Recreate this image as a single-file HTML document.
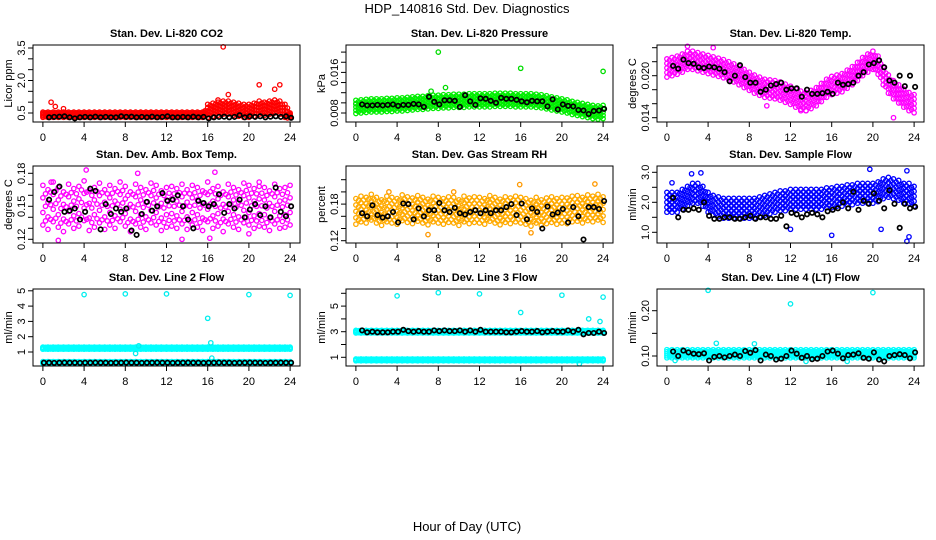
<!DOCTYPE html>
<html><head><meta charset="utf-8"><style>
html,body{margin:0;padding:0;background:#fff;}
svg{display:block;font-family:"Liberation Sans",Arial,sans-serif;}
</style></head><body>
<svg id="chart" width="936" height="540" viewBox="0 0 936 540" xmlns="http://www.w3.org/2000/svg">
<text x="467" y="13" font-size="13" text-anchor="middle">HDP_140816  Std. Dev. Diagnostics</text>
<text x="467" y="531" font-size="13" text-anchor="middle">Hour of Day (UTC)</text>
</svg>
<script>
// hour categories (0..24 every half hour)
const hours = Array.from({length:49},(_, i)=>i*0.5);
const xTicks = [0,4,8,12,16,20,24];

// CO2
const co2Mid = [0.42,0.42,0.42,0.42,0.42,0.42,0.42,0.42,0.42,0.42,0.42,0.42,0.42,0.42,0.42,0.42,0.42,0.42,0.42,0.42,0.42,0.42,0.42,0.42,0.42,0.42,0.42,0.42,0.42,0.42,0.42,0.42,0.6,0.65,0.7,0.75,0.75,0.7,0.65,0.6,0.6,0.65,0.75,0.7,0.75,0.8,0.75,0.6,0.4];
const co2Spread = [0.12,0.12,0.12,0.12,0.12,0.12,0.12,0.12,0.12,0.12,0.12,0.12,0.12,0.12,0.12,0.12,0.12,0.12,0.12,0.12,0.12,0.12,0.12,0.12,0.12,0.12,0.12,0.12,0.12,0.12,0.12,0.12,0.3,0.3,0.3,0.3,0.3,0.3,0.3,0.3,0.3,0.3,0.3,0.3,0.3,0.3,0.3,0.3,0.1];
const co2Black = [null,0.3,0.32,0.33,0.35,0.3,0.25,0.3,0.32,0.3,0.33,0.3,0.32,0.3,0.3,0.35,0.32,0.33,0.3,0.32,0.3,0.33,0.3,0.32,0.35,0.3,0.3,0.32,0.3,0.33,0.3,0.32,0.25,0.3,0.32,0.33,0.3,0.32,0.4,0.3,0.35,0.32,0.35,0.3,0.33,0.35,0.32,0.35,0.28];
const co2OutX = [17.5,0.8,1.2,2,21,23,22.5,18,17];
const co2OutY = [3.55,1.0,0.8,0.7,1.8,1.8,1.6,1.35,1.1];

// Pressure
const presMid = [.0092,.0093,.0094,.0095,.0095,.0095,.0096,.0096,.0097,.0097,.0098,.0099,.0100,.0100,.0101,.0102,.0102,.0103,.0103,.0104,.0104,.0104,.0105,.0105,.0105,.0105,.0105,.0106,.0106,.0106,.0106,.0105,.0105,.0105,.0105,.0104,.0103,.0101,.0099,.0097,.0095,.0093,.0090,.0088,.0086,.0084,.0082,.0081,.0082];
const presSpread = Array(49).fill(.0013);
const presBlack = [null,.0097,.0095,.0095,.0096,.0095,.0096,.0097,.0094,.0096,.0096,.0098,.0097,.0092,.0112,.0102,.0097,.0105,.0105,.0104,.0092,.0115,.0103,.0096,.0109,.0108,.0104,.0100,.0110,.0108,.0108,.0106,.0103,.0101,.0104,.0103,.0103,.0093,.0107,.0087,.0097,.0094,.0093,.0086,.0085,.0078,.0084,.0085,.0088];
const presOutX = [8,16,24,8.7,7.3,0];
const presOutY = [.0200,.0168,.0162,.0130,.0123,.0098];

// Li-820 Temp
const ltMid = [.0211,.0213,.0215,.0218,.0222,.0222,.0220,.0218,.0216,.0214,.0212,.0210,.0207,.0204,.0200,.0196,.0192,.0188,.0185,.0182,.0181,.0180,.0178,.0175,.0172,.0168,.0165,.0163,.0166,.0170,.0176,.0182,.0186,.0188,.0190,.0195,.0200,.0206,.0213,.0218,.0222,.0215,.0200,.0188,.0180,.0174,.0168,.0163,.0160];
const ltSpread = Array(49).fill(.0013);
const ltBlack = [null,.0214,.0210,.0223,.0218,.0217,.0212,.0211,.0213,.0212,.0210,.0205,.0192,.0200,.0215,.0198,.0190,.0190,.0177,.0180,.0186,.0188,.0190,.0180,.0182,.0182,.0170,.0180,.0174,.0174,.0175,.0177,.0174,.0190,.0187,.0188,.0190,.0200,.0205,.0216,.0218,.0222,.0212,.0193,.0190,.0200,.0185,.0200,.0184];
const ltOutX = [13,22,9.7,2,4.5,13.5];
const ltOutY = [.0150,.0140,.0157,.0242,.0240,.0150];

// Amb box temp
const abMid = [.152,.148,.155,.150,.146,.153,.149,.151,.156,.147,.150,.154,.148,.152,.149,.155,.151,.146,.153,.150,.148,.154,.152,.147,.150,.151,.149,.153,.148,.152,.150,.147,.155,.149,.151,.146,.153,.150,.148,.154,.152,.149,.151,.150,.147,.153,.149,.150,.152];
const abSpread = Array(49).fill(.019);
const abBlack = [null,.156,.163,.168,.145,.146,.148,.138,.145,.166,.164,.129,.152,.143,.148,.145,.148,.128,.124,.143,.154,.146,.150,.162,.155,.156,.160,.150,.138,.130,.155,.153,.150,.152,.161,.144,.152,.148,.156,.140,.147,.152,.142,.150,.140,.167,.145,.141,.150];
const abOutX = [4.2,9.2,16.7,1.5,13.5,16.2,20,0.8,21];
const abOutY = [.183,.180,.181,.119,.120,.121,.125,.172,.172];

// Gas stream RH
const rhMid = [.168,.172,.170,.175,.170,.166,.172,.170,.168,.174,.171,.169,.173,.170,.167,.172,.170,.168,.171,.170,.166,.172,.169,.171,.170,.168,.173,.170,.167,.171,.169,.172,.170,.168,.165,.170,.166,.169,.171,.168,.170,.169,.172,.173,.170,.174,.172,.175,.171];
const rhSpread = Array(49).fill(.021);
const rhBlack = [null,.165,.160,.178,.162,.158,.160,.167,.150,.181,.180,.155,.173,.160,.170,.170,.182,.170,.167,.174,.165,.163,.167,.170,.165,.170,.165,.170,.170,.175,.180,.162,.181,.155,.173,.167,.140,.176,.163,.166,.172,.150,.175,.160,.122,.175,.175,.172,.185];
const rhOutX = [15.9,23.2,3.2,9.5,7,17];
const rhOutY = [.212,.213,.200,.200,.130,.133];

// Sample flow
const sfMid = [2.0,2.0,2.0,2.1,2.2,2.3,2.3,2.2,2.0,1.9,1.85,1.8,1.8,1.8,1.8,1.8,1.8,1.8,1.85,1.9,1.95,2.0,2.05,2.05,2.1,2.1,2.1,2.1,2.1,2.1,2.1,2.15,2.15,2.2,2.2,2.25,2.25,2.3,2.3,2.3,2.3,2.35,2.45,2.5,2.45,2.4,2.3,2.3,2.2];
const sfSpread = Array(49).fill(.33);
const sfBlack = [null,2.15,1.5,1.75,1.75,1.8,1.75,2.0,1.55,1.45,1.45,1.5,1.5,1.45,1.45,1.5,1.55,1.45,1.5,1.5,1.45,1.45,1.55,1.2,1.65,1.6,1.5,1.6,1.65,1.6,1.5,1.7,1.75,1.8,2.0,1.8,2.35,1.75,2.05,1.95,2.3,2.05,1.8,2.4,1.95,1.15,1.95,1.8,1.85];
const sfOutX = [0.5,2.4,3.3,19.7,23.3,16,23.3,23.5,20.8,12];
const sfOutY = [2.65,2.95,2.98,3.1,3.05,0.9,0.7,0.85,1.1,1.1];

// Line 2 flow
const l2Mid = Array(49).fill(1.25);
const l2Spread = Array(49).fill(0.07);
const l2LowMid = Array(49).fill(0.32);
const l2LowSpread = Array(49).fill(0.05);
const l2Black = [0.3,0.3,0.29,0.3,0.31,0.3,0.3,0.29,0.3,0.3,0.31,0.3,0.3,0.29,0.3,0.3,0.31,0.3,0.3,0.29,0.3,0.3,0.31,0.3,0.3,0.29,0.3,0.3,0.31,0.3,0.3,0.29,0.3,0.3,0.31,0.3,0.3,0.29,0.3,0.3,0.31,0.3,0.3,0.29,0.3,0.3,0.31,0.3,0.3];
const l2OutX = [4,8,12,16,16.3,16.4,20,24,9,9.3];
const l2OutY = [4.75,4.8,4.8,3.2,1.6,0.6,4.75,4.7,0.9,1.4];

// Line 3 flow
const l3Mid = Array(49).fill(3.0);
const l3Spread = Array(49).fill(0.1);
const l3LowMid = Array(49).fill(0.8);
const l3LowSpread = Array(49).fill(0.07);
const l3Black = [null,3.1,2.95,3.0,2.95,2.95,2.95,3.0,3.0,3.15,3.05,3.0,3.05,3.0,3.0,3.1,3.05,3.1,3.05,3.05,3.1,3.0,3.1,3.0,3.15,3.0,3.0,3.0,3.0,2.95,2.95,3.0,3.05,3.0,3.0,3.05,2.95,3.0,3.05,3.0,3.0,3.1,3.0,3.15,2.8,2.9,2.9,3.0,2.9];
const l3OutX = [4,8,12,16,20,24,22.6,23.7,21.7];
const l3OutY = [5.8,6.05,5.95,4.5,5.85,5.7,4.0,3.8,0.5];

// Line 4 flow
const l4Mid = Array(49).fill(0.105);
const l4Spread = Array(49).fill(0.009);
const l4Black = [null,0.11,0.1,0.112,0.108,0.105,0.104,0.106,0.09,0.098,0.1,0.097,0.1,0.103,0.1,0.111,0.107,0.113,0.09,0.103,0.1,0.092,0.094,0.1,0.112,0.105,0.096,0.1,0.093,0.094,0.1,0.11,0.112,0.105,0.095,0.102,0.103,0.106,0.096,0.094,0.108,0.092,0.088,0.1,0.102,0.104,0.102,0.095,0.108];
const l4OutX = [4,12,20,0.8,4.8,8.5,13.5,17.5];
const l4OutY = [0.245,0.215,0.24,0.09,0.128,0.127,0.088,0.088];

const panels = [
 {name:'co2',title:'Stan. Dev. Li-820 CO2',ylab:'Licor ppm',x:33,y:45,v0:0.5,y0:113,k:21.67,ticks:[0.5,1,1.5,2,2.5,3,3.5],labs:['0.5','','','2.0','','','3.5'],col:'#ff0000',bands:[[co2Mid,co2Spread]],black:co2Black,ox:co2OutX,oy:co2OutY,oc:'#ff0000'},
 {name:'pressure',title:'Stan. Dev. Li-820 Pressure',ylab:'kPa',x:346,y:45,v0:0.008,y0:113,k:5075,ticks:[.008,.010,.012,.014,.016,.018,.020],labs:['0.008','','','','0.016','',''],col:'#00ee00',bands:[[presMid,presSpread]],black:presBlack,ox:presOutX,oy:presOutY,oc:'#00dd00'},
 {name:'li-temp',title:'Stan. Dev. Li-820 Temp.',ylab:'degrees C',x:657,y:45,v0:0.014,y0:117.7,k:7000,ticks:[.014,.016,.018,.020,.022,.024],labs:['0.014','','','0.020','',''],col:'#ff00ff',bands:[[ltMid,ltSpread]],black:ltBlack,ox:ltOutX,oy:ltOutY,oc:'#ff00ff'},
 {name:'amb-box-temp',title:'Stan. Dev. Amb. Box Temp.',ylab:'degrees C',x:33,y:166,v0:0.12,y0:239.3,k:1100,ticks:[.12,.13,.14,.15,.16,.17,.18],labs:['0.12','','','0.15','','','0.18'],col:'#ff00ff',bands:[[abMid,abSpread]],black:abBlack,ox:abOutX,oy:abOutY,oc:'#ff00ff',sparse:true},
 {name:'gas-rh',title:'Stan. Dev. Gas Stream RH',ylab:'percent',x:346,y:166,v0:0.12,y0:240.7,k:610,ticks:[.12,.14,.16,.18,.20,.22],labs:['0.12','','','0.18','',''],col:'#ffaa00',bands:[[rhMid,rhSpread]],black:rhBlack,ox:rhOutX,oy:rhOutY,oc:'#ff9900'},
 {name:'sample-flow',title:'Stan. Dev. Sample Flow',ylab:'ml/min',x:657,y:166,v0:1.0,y0:232.3,k:30,ticks:[1,1.5,2,2.5,3],labs:['1.0','','2.0','','3.0'],col:'#0000ff',bands:[[sfMid,sfSpread]],black:sfBlack,ox:sfOutX,oy:sfOutY,oc:'#0000ff'},
 {name:'line2-flow',title:'Stan. Dev. Line 2 Flow',ylab:'ml/min',x:33,y:289,v0:1,y0:352,k:15.3,ticks:[1,2,3,4,5],labs:['1','2','3','4','5'],col:'#00ffff',bands:[[l2Mid,l2Spread],[l2LowMid,l2LowSpread]],black:l2Black,ox:l2OutX,oy:l2OutY,oc:'#00eeee'},
 {name:'line3-flow',title:'Stan. Dev. Line 3 Flow',ylab:'ml/min',x:346,y:289,v0:1,y0:357.3,k:12.8,ticks:[1,2,3,4,5,6],labs:['1','','3','','5',''],col:'#00ffff',bands:[[l3Mid,l3Spread],[l3LowMid,l3LowSpread]],black:l3Black,ox:l3OutX,oy:l3OutY,oc:'#00eeee'},
 {name:'line4-flow',title:'Stan. Dev. Line 4 (LT) Flow',ylab:'ml/min',x:657,y:289,v0:0.10,y0:356,k:453,ticks:[0.10,0.15,0.20],labs:['0.10','','0.20'],col:'#00ffff',bands:[[l4Mid,l4Spread]],black:l4Black,ox:l4OutX,oy:l4OutY,oc:'#00eeee'}
];
const W=267,H=77,NS='http://www.w3.org/2000/svg';
const svg=document.getElementById('chart');
function mk(tag,attrs,parent){const e=document.createElementNS(NS,tag);for(const k in attrs)e.setAttribute(k,attrs[k]);(parent||svg).appendChild(e);return e;}
panels.forEach(p=>{
 const g=mk('g',{});
 
 
 const xs=h=>p.x+W*(h+0.96)/25.92;
 const ys=v=>p.y0-(v-p.v0)*p.k;
 const clip='c-'+p.name;
 const cp=mk('clipPath',{id:clip},g);mk('rect',{x:p.x-3,y:p.y-3,width:W+6,height:H+6},cp);
 const marks=mk('g',{'clip-path':'url(#'+clip+')'},g);
 
 
 const circ=(h,v,c,sw)=>{const e=mk('circle',{cx:xs(h).toFixed(1),cy:ys(v).toFixed(1),r:2.2,fill:'none',stroke:c,'stroke-width':sw},marks);return e;};
 const fr=p.sparse?[-1,-0.4,0.3,0.9]:[-1,-0.5,0,0.5,1];
 const fr2=p.sparse?[-0.7,0,0.6]:[-0.75,-0.25,0.25,0.75];
 p.bands.forEach(([mid,sp])=>{
  hours.forEach((h,i)=>{
   if(mid[i]==null)return;
   fr.forEach(f=>circ(h,mid[i]+f*sp[i],p.col,1.3));
   if(i<hours.length-1){const m2=(mid[i]+mid[i+1])/2;fr2.forEach(f=>circ(h+0.25,m2+f*sp[i],p.col,1.3));}
  });
 });
 p.ox.forEach((h,i)=>circ(h,p.oy[i],p.oc,1.3));
 hours.forEach((h,i)=>{const v=p.black[i];if(v==null)return;circ(h+0.1,v,'#000',1.7);});
 // box
 const box=mk('rect',{x:p.x,y:p.y,width:W,height:H,fill:'none',stroke:'#000','stroke-width':1},g);
 
 
 // title
 const t=mk('text',{x:p.x+W/2,y:p.y-8,'font-size':11,'font-weight':'bold','text-anchor':'middle'},g);t.textContent=p.title;
 
 
 // x axis
 const by=p.y+H;
 xTicks.forEach(h=>{
  mk('line',{x1:xs(h),x2:xs(h),y1:by,y2:by+5,stroke:'#000'},g);
  const tl=mk('text',{x:xs(h),y:by+19,'font-size':11,'text-anchor':'middle'},g);tl.textContent=h;
  
  
 });
 // y axis
 p.ticks.forEach((v,i)=>{
  const yy=ys(v);
  mk('line',{x1:p.x-5,x2:p.x,y1:yy,y2:yy,stroke:'#000'},g);
  if(p.labs[i]){const tl=mk('text',{x:p.x-8,y:yy,'font-size':11,'text-anchor':'middle',transform:'rotate(-90 '+(p.x-8)+' '+yy+')'},g);tl.textContent=p.labs[i];
   
   }
 });
 const yl=mk('text',{x:p.x-21,y:p.y+H/2,'font-size':11,'text-anchor':'middle',transform:'rotate(-90 '+(p.x-21)+' '+(p.y+H/2)+')'},g);yl.textContent=p.ylab;
 
 
});
</script>
</body></html>
